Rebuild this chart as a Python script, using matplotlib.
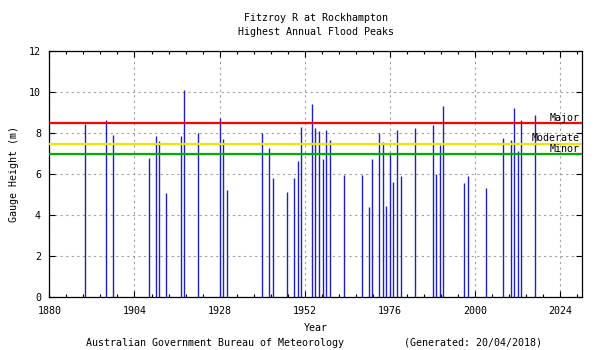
"""
Fitzroy R at Rockhampton - highest annual flood peaks
"""

import matplotlib.pyplot as plt
import numpy as np
from matplotlib.ticker import AutoMinorLocator

years = [1890, 1896, 1898, 1908, 1910, 1911, 1913, 1917, 1918, 1922,
         1928, 1929, 1930, 1940, 1942, 1943, 1947, 1949, 1950, 1951,
         1954, 1955, 1956, 1957, 1958, 1959, 1963, 1968, 1970, 1971,
         1973, 1974, 1975, 1976, 1977, 1978, 1979, 1983, 1988, 1989,
         1990, 1991, 1997, 1998, 2003, 2008, 2010, 2011, 2012, 2013,
         2017]
peaks = [8.47, 8.63, 7.90, 6.78, 7.85, 7.61, 5.07, 7.85, 10.10, 8.00,
         8.75, 7.71, 5.22, 8.00, 7.27, 5.82, 5.12, 5.82, 6.65, 8.29,
         9.43, 8.24, 8.10, 6.73, 8.15, 7.66, 5.95, 5.95, 4.39, 6.73,
         8.00, 7.56, 4.44, 6.98, 5.61, 8.15, 5.90, 8.24, 8.39, 6.00,
         7.41, 9.32, 5.56, 5.90, 5.32, 7.76, 7.66, 9.22, 7.12, 8.63,
         8.89]

levels = [8.5, 7.5, 7.0]
level_names = ["Major", "Moderate", "Minor"]
level_colors = ["#ff0000", "#e8e800", "#00b000"]

xticks = [1880, 1904, 1928, 1952, 1976, 2000, 2024]

plt.rcParams["font.family"] = "DejaVu Sans Mono"
plt.rcParams["font.size"] = 7.2

fig = plt.figure(figsize=(6, 3.5), dpi=100)
ax = fig.add_axes([0.0822, 0.1506, 0.887, 0.7028])

ax.vlines(years, 0, peaks, color="#2020c0", linewidth=1.0, zorder=2)

for lev, name, col in zip(levels, level_names, level_colors):
    ax.axhline(lev, color=col, linewidth=1.6, zorder=3)
    ax.annotate(name, xy=(1, lev), xycoords=("axes fraction", "data"),
                xytext=(-1.5, 3.8), textcoords="offset points",
                ha="right", va="center", fontsize=7.2, zorder=4)

ax.set_xlim(1880, 2030)
ax.set_ylim(0, 12)
ax.set_xticks(xticks)
ax.xaxis.set_minor_locator(AutoMinorLocator(5))
ax.set_yticks(np.arange(0, 13, 2))

ax.grid(True, which="major", color="#a0a0a0", linestyle=(0, (2, 3)), linewidth=0.8)
ax.set_axisbelow(True)

ax.tick_params(which="both", direction="in", top=True, right=True, width=0.8)
ax.tick_params(which="major", length=4, pad=6)
ax.tick_params(which="minor", length=2)
for s in ax.spines.values():
    s.set_linewidth(0.9)

ax.set_ylabel("Gauge Height (m)", labelpad=7)
ax.set_xlabel("Year", labelpad=5)

fig.text(0.526, 0.948, "Fitzroy R at Rockhampton", ha="center", va="center")
fig.text(0.526, 0.908, "Highest Annual Flood Peaks", ha="center", va="center")
fig.text(0.523, 0.02,
         "Australian Government Bureau of Meteorology" + " " * 10
         + "(Generated: 20/04/2018)", ha="center", va="center")

fig.savefig("out.png", dpi=100)
